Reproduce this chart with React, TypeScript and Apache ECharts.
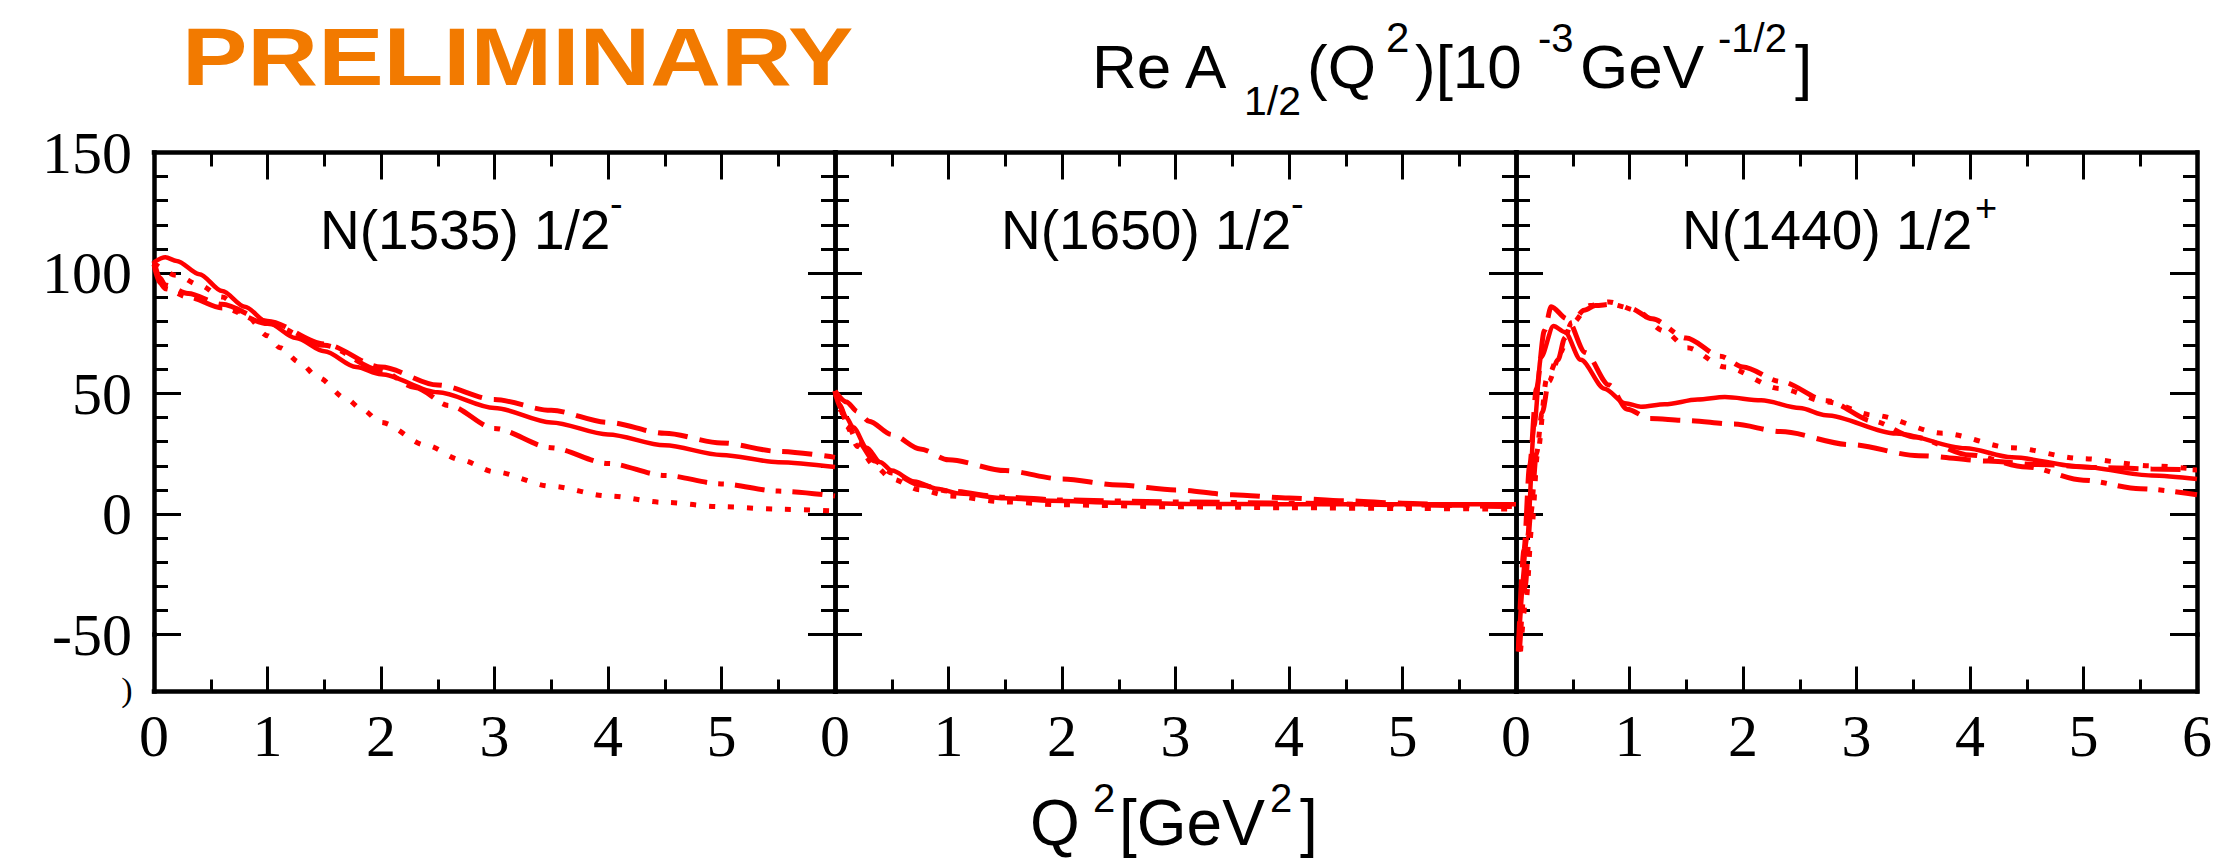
import React, { useEffect, useRef } from "react";
import * as echarts from "echarts";

// ---------- data ----------
const xMin = 0;
const xMax = 6;
const yMin = -50;
const yMax = 150;
const panelNames = ["N(1535) 1/2", "N(1650) 1/2", "N(1440) 1/2"];
const panelParity = ["-", "-", "+"];

// Panel 1: N(1535) 1/2-
const p1Solid = [[0,104.5],[0.1,106.5],[0.2,105],[0.4,99.5],[0.6,92.5],[0.8,86],[1,79.5],[1.25,73],[1.5,67.5],[1.78,61],[2,58],[2.5,50.5],[3,44],[3.5,38],[4,33],[4.5,28.5],[5,24.5],[5.5,21.5],[6,19.5]];
const p1Dashed = [[0,105],[0.05,98],[0.1,95],[0.3,91.5],[0.6,87],[1,80],[1.5,70.5],[2,61],[2.5,53.5],[3,47.5],[3.5,43],[4,38],[4.5,33.5],[5,29.5],[5.5,26],[6,23.5]];
const p1DashDot = [[0,103.5],[0.05,96],[0.1,93.5],[0.3,90],[0.6,85.5],[1,79],[1.5,70],[2,59.5],[2.3,52.5],[2.6,45],[3,35.5],[3.5,27.5],[4,21],[4.5,16],[5,12.5],[5.5,9.5],[6,7.5]];
const p1Dotted = [[0,104],[0.2,99],[0.4,95],[0.6,90],[0.8,83],[1,74],[1.11,69],[1.28,63],[1.45,56.5],[1.69,48],[1.83,43.5],[2,38],[2.4,28.5],[2.7,22.5],[3,17.5],[3.5,11.5],[4,7.5],[4.5,4.8],[5,3],[5.5,2],[6,1.2]];

// Panel 2: N(1650) 1/2-
const p2Solid = [[0,51],[0.04,45.5],[0.1,40],[0.16,36],[0.28,27.5],[0.4,21.5],[0.5,18],[0.7,13.5],[0.9,10.5],[1.1,8.5],[1.5,6.5],[1.9,5.5],[2.5,4.7],[3.1,4.2],[4,4],[5,4],[6,4]];
const p2Dashed = [[0,51],[0.1,46.5],[0.2,42.5],[0.3,38.5],[0.5,33],[0.75,27],[1,22.5],[1.5,18],[2,14.5],[2.5,12],[3,10],[3.5,8],[4,6.6],[4.5,5.5],[5,4.5],[5.5,3.6],[6,3]];
const p2DashDot = [[0,51],[0.05,44],[0.1,38],[0.2,30],[0.35,22],[0.5,17],[0.75,12],[1,9.5],[1.5,7],[2,5.8],[3,5],[4,4.5],[5,3.8],[6,3]];
const p2Dotted = [[0,51],[0.05,43],[0.1,36.5],[0.2,28],[0.35,20],[0.5,14.5],[0.75,10],[1,7.5],[1.5,5],[2,3.8],[3,3],[4,2.6],[5,2.3],[6,2]];

// Panel 3: N(1440) 1/2+
const p3Solid = [[0.02,-57],[0.1,-9.5],[0.16,36.5],[0.22,65],[0.33,78],[0.43,75.5],[0.57,64],[0.78,52],[0.96,46],[1.1,44.5],[1.31,45.5],[1.6,47.5],[1.84,48.5],[2.16,47.2],[2.5,44],[2.73,41],[3.35,33.4],[3.96,27.3],[4.37,23.5],[4.98,19.6],[5.6,16],[6,14.5]];
const p3Dashed = [[0.02,-57],[0.07,-15],[0.12,20],[0.18,52],[0.25,76],[0.31,86],[0.45,81],[0.61,67],[0.82,53.5],[0.98,43.5],[1.18,39.6],[1.5,38.8],[1.92,37.3],[2.33,34.2],[2.94,28.8],[3.55,24.2],[4.16,22],[4.6,20.5],[5.2,19.2],[5.6,18.7],[6,18.3]];
const p3DashDot = [[0.03,-57],[0.08,-30],[0.13,0],[0.18,25],[0.23,42],[0.29,55],[0.37,64],[0.43,73],[0.49,79.5],[0.6,84.5],[0.7,86.5],[0.84,87],[1,85.5],[1.2,81],[1.5,73],[1.8,65.5],[2,61],[2.33,55],[2.74,47],[3.15,38.5],[3.5,32],[4,24.5],[4.5,19.5],[5,14],[5.5,10.5],[6,8]];
const p3Dotted = [[0.04,-57],[0.09,-35],[0.14,-5],[0.19,25],[0.27,56],[0.39,67],[0.49,79],[0.65,86.5],[0.82,88],[1.06,84.5],[1.3,76],[1.51,69],[1.84,61],[2.33,52],[2.74,46.5],[3.15,41],[3.76,33.5],[4.37,27.5],[4.98,23],[5.6,20],[6,18.5]];

const panelSeries = [
  [p1Solid, p1Dashed, p1DashDot, p1Dotted],
  [p2Solid, p2Dashed, p2DashDot, p2Dotted],
  [p3Solid, p3Dashed, p3DashDot, p3Dotted],
];
const styleNames = ["solid", "dashed", "dashdot", "dotted"];

// ---------- layout ----------
const W = 2229;
const H = 863;
const panelLeft = [154, 835, 1516];
const panelWidth = 681;
const plotTop = 152.5;
const plotBottom = 634.5; // y = -50
const frameBottom = 691.5;
const RED = "#ff0000";
const SERIF = "'Liberation Serif', 'Times New Roman', serif";
const SANS = "'Liberation Sans', Arial, Helvetica, sans-serif";

const dashFor: Record<string, any> = {
  solid: "solid",
  dashed: [30, 12],
  dashdot: [30, 11, 6, 11],
  dotted: [6, 13],
};

function buildOption() {
  const grid: any[] = [];
  const xAxis: any[] = [];
  const yAxis: any[] = [];
  const series: any[] = [];
  const blackLine = { color: "#000", width: 4.5, cap: "square" };
  const tickLine = { color: "#000", width: 3 };

  panelLeft.forEach((left, i) => {
    grid.push({ left, top: plotTop, width: panelWidth, height: plotBottom - plotTop, outerBoundsMode: "none", containLabel: false });
    grid.push({ left, top: plotBottom, width: panelWidth, height: frameBottom - plotBottom, outerBoundsMode: "none", containLabel: false });

    xAxis.push({
      gridIndex: 2 * i, type: "value", position: "top", min: xMin, max: xMax, interval: 1,
      axisLine: { show: true, onZero: false, lineStyle: blackLine },
      axisTick: { show: true, inside: true, length: 27, lineStyle: tickLine },
      minorTick: { show: true, splitNumber: 2, length: 14, lineStyle: tickLine },
      axisLabel: { show: false }, splitLine: { show: false }, minorSplitLine: { show: false },
    });
    xAxis.push({
      gridIndex: 2 * i + 1, type: "value", position: "bottom", min: xMin, max: xMax, interval: 1,
      axisLine: { show: true, onZero: false, lineStyle: blackLine },
      axisTick: { show: true, inside: true, length: 25, lineStyle: tickLine },
      minorTick: { show: true, splitNumber: 2, length: 12, lineStyle: tickLine },
      axisLabel: {
        show: true, margin: 14, fontFamily: SERIF, fontSize: 60, color: "#000",
        showMinLabel: true, showMaxLabel: true,
        formatter: (v: number) => (i < 2 && v === xMax ? "" : String(v)),
      },
      splitLine: { show: false }, minorSplitLine: { show: false },
    });

    const yMain = (position: string, labels: boolean) => ({
      gridIndex: 2 * i, type: "value", position, min: yMin, max: yMax, interval: 50,
      axisLine: { show: true, onZero: false, lineStyle: blackLine },
      axisTick: { show: true, inside: true, length: 27, lineStyle: tickLine },
      minorTick: { show: true, splitNumber: 5, length: 14, lineStyle: tickLine },
      axisLabel: { show: labels, margin: 22, fontFamily: SERIF, fontSize: 60, color: "#000", showMinLabel: true, showMaxLabel: true },
      splitLine: { show: false }, minorSplitLine: { show: false },
    });
    yAxis.push(yMain("left", i === 0));
    yAxis.push(yMain("right", false));
    const yStrip = (position: string) => ({
      gridIndex: 2 * i + 1, type: "value", position, min: 0, max: 1,
      axisLine: { show: true, onZero: false, lineStyle: blackLine },
      axisTick: { show: false }, axisLabel: { show: false }, splitLine: { show: false },
    });
    yAxis.push(yStrip("left"));
    yAxis.push(yStrip("right"));

    panelSeries[i].forEach((data, k) => {
      const st = styleNames[k];
      series.push({
        name: `${panelNames[i]}${panelParity[i]} ${st}`,
        type: "line",
        xAxisIndex: 2 * i,
        yAxisIndex: 4 * i,
        data,
        showSymbol: false,
        symbol: "none",
        smooth: 0.3,
        smoothMonotone: "x",
        clip: false,
        lineStyle: { color: RED, width: st === "solid" ? 4.5 : 5, type: dashFor[st] },
        z: 3,
      });
    });
  });

  const txt = (text: string, x: number, y: number, fontSize: number, extra: any = {}) => ({
    type: "text", x, y, z: 10,
    style: { text, fill: "#000", fontFamily: SANS, fontSize, align: "left", verticalAlign: "middle", ...extra },
  });

  const graphic: any[] = [
    {
      type: "text", x: 182, y: 57, scaleX: 1.21, z: 10,
      style: { text: "PRELIMINARY", fill: "#f27a00", fontFamily: SANS, fontWeight: "bold", fontSize: 81, align: "left", verticalAlign: "middle" },
    },
    // y title
    txt("Re A", 1092, 66.8, 62),
    txt("1/2", 1244, 100.5, 41),
    txt("(Q", 1307, 66.8, 62),
    txt("2", 1386, 37, 42),
    txt(")[10", 1415, 66.8, 62),
    txt("-3", 1538, 38, 40),
    txt("GeV", 1580, 66.8, 62),
    txt("-1/2", 1718, 38, 40),
    txt("]", 1795, 66.8, 62),
    // x title
    txt("Q", 1030, 822.8, 64),
    txt("2", 1093, 797.8, 40),
    txt("[GeV", 1119, 822.8, 64),
    txt("2", 1270, 797.8, 40),
    txt("]", 1300, 822.8, 64),
    // stray bracket at left
    { type: "text", x: 127, y: 689, z: 10, style: { text: ")", fill: "#000", fontFamily: SERIF, fontSize: 34, align: "center", verticalAlign: "middle" } },
  ];
  panelLeft.forEach((left, i) => {
    graphic.push(txt(panelNames[i], left + 166, 229.5, 55));
    graphic.push(txt(panelParity[i], left + (i === 2 ? 459 : 456), panelParity[i] === "+" ? 208 : 204, 38));
  });

  return {
    animation: false,
    backgroundColor: "#ffffff",
    grid,
    xAxis,
    yAxis,
    series,
    graphic,
  };
}

export default function App() {
  const ref = useRef<HTMLDivElement>(null);
  useEffect(() => {
    if (!ref.current) return;
    const chart = echarts.init(ref.current, null, { renderer: "svg", width: W, height: H });
    chart.setOption(buildOption() as any);
    return () => chart.dispose();
  }, []);
  return (
    <div
      ref={ref}
      style={{ position: "fixed", left: 0, top: 0, width: W, height: H, background: "#fff" }}
    />
  );
}
